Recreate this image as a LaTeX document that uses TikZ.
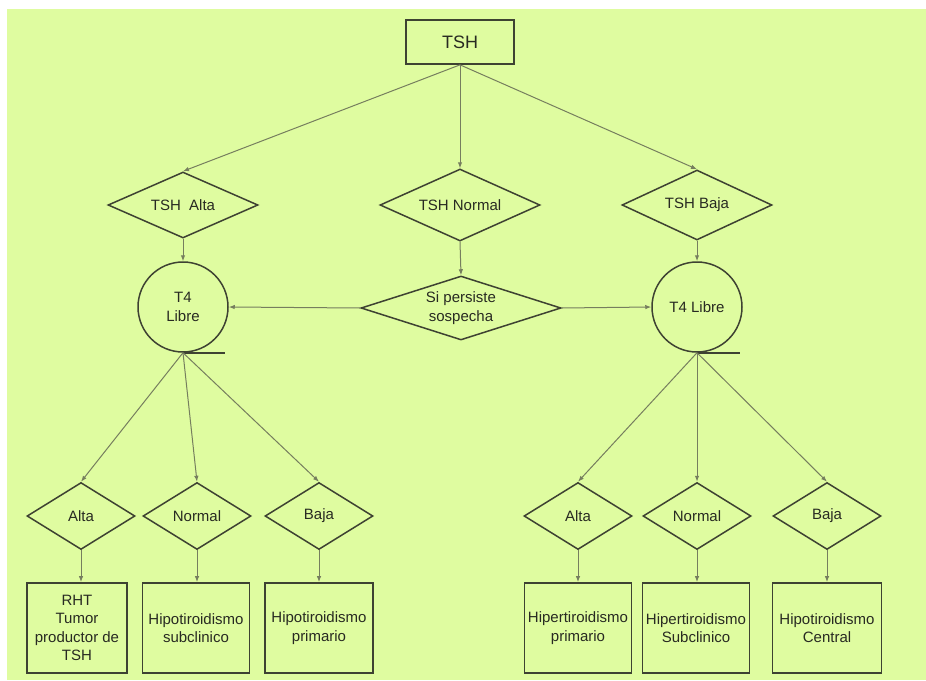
\documentclass[tikz,border=0pt]{standalone}
\usepackage{fontspec}
\setmainfont{Liberation Sans}
\usetikzlibrary{shapes.geometric,arrows.meta}
\definecolor{fondo}{RGB}{223,252,160}
\definecolor{borde}{RGB}{62,66,50}
\definecolor{linea}{RGB}{118,126,94}
\definecolor{texto}{RGB}{40,42,34}

\begin{document}
\begin{tikzpicture}[x=1pt,y=-1pt,
    every node/.style={text=texto,font=\fontsize{15}{18.5}\selectfont,align=center},
    pregunta/.style={diamond,draw=borde,line width=1.5pt,aspect=3,inner sep=0pt,minimum height=67pt,minimum width=#1},
    pregunta/.default=108pt,
    caja/.style={rectangle,draw=borde,line width=1.7pt,inner sep=0pt,minimum height=90pt,minimum width=#1},
    caja/.default=107pt,
    t4/.style={circle,draw=borde,line width=1.5pt,inner sep=0pt,minimum size=90pt},
    flecha/.style={draw=linea,line width=1pt,-{Latex[length=6pt,width=4.5pt]}}]
    \useasboundingbox (0,0) rectangle (926,680);
    \fill [fondo] (7,9) rectangle (926,680);

    % primer nivel
    \node [caja=108pt,minimum height=44pt,font=\fontsize{18}{20}\selectfont] (tsh) at (460,42) {TSH};
    \node [pregunta=150pt,minimum height=66pt] (talta) at (183,205) {TSH\ \ Alta};
    \node [pregunta=160pt,minimum height=72pt] (tnormal) at (460,205) {TSH Normal};
    \node [pregunta=150pt,minimum height=70pt] (tbaja) at (697,205) {TSH Baja};

    \draw [flecha] (tsh.south)--(talta.north);
    \draw [flecha] (tsh.south)--(tnormal.north);
    \draw [flecha] (tsh.south)--(tbaja.north);

    % T4 libre
    \node [t4] (t4izq) at (183,307) {T4\\Libre};
    \node [t4] (t4der) at (697,307) {T4 Libre};
    \node [pregunta=200pt,minimum height=64pt] (sosp) at (461,308) {Si persiste\\sospecha};
    \draw [borde,line width=2pt] (t4izq.south)--++(42,0);
    \draw [borde,line width=2pt] (t4der.south)--++(43,0);

    \draw [flecha] (talta.south)--(t4izq.north);
    \draw [flecha] (tbaja.south)--(t4der.north);
    \draw [flecha] (tnormal.south)--(sosp.north);
    \draw [flecha] (sosp.west)--(t4izq.east);
    \draw [flecha] (sosp.east)--(t4der.west);

    % rama izquierda
    \node [pregunta] (ialta) at (81,516) {Alta};
    \node [pregunta] (inormal) at (197,516) {Normal};
    \node [pregunta] (ibaja) at (319,516) {Baja};
    \node [caja=100pt] (rht) at (77,628) {RHT\\Tumor\\productor de\\TSH};
    \node [caja] (hiposub) at (196,628) {Hipotiroidismo\\subclinico};
    \node [caja=108pt] (hipoprim) at (319,628) {Hipotiroidismo\\primario};

    \draw [flecha] (t4izq.south)--(ialta.north);
    \draw [flecha] (t4izq.south)--(inormal.north);
    \draw [flecha] (t4izq.south)--(ibaja.north);
    \draw [flecha] (ialta.south)--(ialta.south|-rht.north);
    \draw [flecha] (inormal.south)--(inormal.south|-hiposub.north);
    \draw [flecha] (ibaja.south)--(ibaja.south|-hipoprim.north);

    % rama derecha
    \node [pregunta] (dalta) at (578,516) {Alta};
    \node [pregunta] (dnormal) at (697,516) {Normal};
    \node [pregunta] (dbaja) at (827,516) {Baja};
    \node [caja] (hiperprim) at (578,628) {Hipertiroidismo\\primario};
    \node [caja] (hipersub) at (696,628) {Hipertiroidismo\\Subclinico};
    \node [caja=109pt] (hipocen) at (827,628) {Hipotiroidismo\\Central};

    \draw [flecha] (t4der.south)--(dalta.north);
    \draw [flecha] (t4der.south)--(dnormal.north);
    \draw [flecha] (t4der.south)--(dbaja.north);
    \draw [flecha] (dalta.south)--(dalta.south|-hiperprim.north);
    \draw [flecha] (dnormal.south)--(dnormal.south|-hipersub.north);
    \draw [flecha] (dbaja.south)--(dbaja.south|-hipocen.north);
\end{tikzpicture}
\end{document}
